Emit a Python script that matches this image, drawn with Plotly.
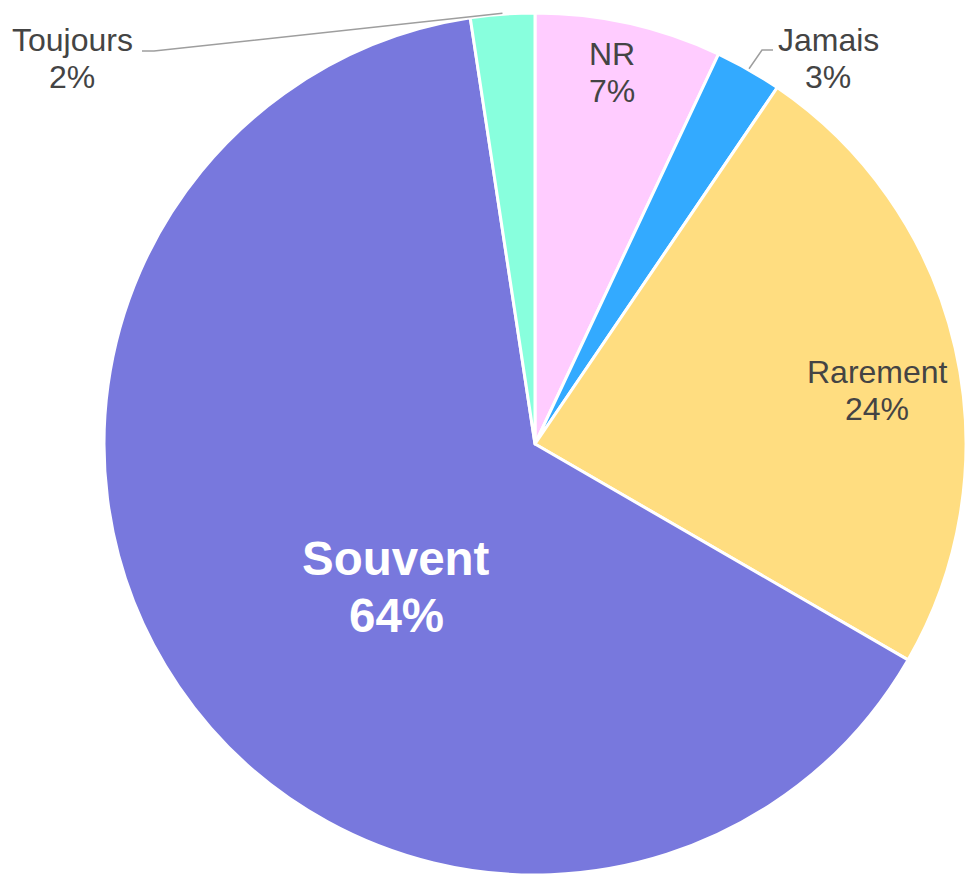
import math
import plotly.graph_objects as go

# ---- data ----
categories = ["NR", "Jamais", "Rarement", "Souvent", "Toujours"]
values = [7.0, 2.5, 23.85, 64.25, 2.4]
colors = ["#FFCCFF", "#33AAFF", "#FFDD80", "#7878DD", "#88FFDD"]

W, H = 967, 876
CX, CY, R = 535, 444, 431  # pie geometry in px (layout)

dom_x = [(CX - R) / W, (CX + R) / W]
dom_y = [1 - (CY + R) / H, 1 - (CY - R) / H]

TXT = "#444444"
FONT = "Liberation Sans, Arial, sans-serif"

fig = go.Figure(go.Pie(
    labels=categories, values=values, sort=False, direction="clockwise",
    rotation=0, marker=dict(colors=colors, line=dict(color="white", width=3)),
    textinfo="none", domain=dict(x=dom_x, y=dom_y), hoverinfo="label+percent",
))

total = sum(values)
cum = 0
mid = {}
pct = {}
for c, v in zip(categories, values):
    mid[c] = (cum + v / 2) / total * 2 * math.pi
    pct[c] = int(math.floor(v / total * 100 + 0.5))
    cum += v

def px2paper(x, y):
    return x / W, 1 - y / H

# label layout: (x center px, y of name line, y of percent line, size, bold, color)
label_layout = {
    "NR": (612, 54, 91, 32, False, TXT),
    "Jamais": (828, 40, 77, 32, False, TXT),
    "Rarement": (877, 372, 409, 32, False, TXT),
    "Souvent": (396, 558, 615, 47.5, True, "white"),
    "Toujours": (72, 40, 77, 32, False, TXT),
}
# leader lines for outside labels: elbow and end points (px)
leaders = {
    "Toujours": [(154, 51), (142, 51)],
    "Jamais": [(762, 50), (773, 50)],
}

shapes, annots = [], []
for c, pts_rest in leaders.items():
    a = mid[c]
    sx = CX + (R + 1) * math.sin(a)
    sy = CY - (R + 1) * math.cos(a)
    pts = [(sx, sy)] + pts_rest
    path = "M " + " L ".join("{},{}".format(*px2paper(*p)) for p in pts)
    shapes.append(dict(type="path", xref="paper", yref="paper", path=path,
                       line=dict(color="#9E9E9E", width=1.5)))

for c in categories:
    x, y1, y2, size, bold, col = label_layout[c]
    for txt, yy in ((c, y1), (f"{pct[c]}%", y2)):
        if bold:
            txt = f"<b>{txt}</b>"
        px_, py_ = px2paper(x, yy)
        annots.append(dict(xref="paper", yref="paper", x=px_, y=py_, showarrow=False,
                           text=txt, font=dict(family=FONT, size=size, color=col),
                           xanchor="center", yanchor="middle"))

fig.update_layout(
    width=W, height=H, margin=dict(l=0, r=0, t=0, b=0),
    paper_bgcolor="white", showlegend=False,
    shapes=shapes, annotations=annots,
)
fig.write_html("out.html", config={"displayModeBar": False},
               post_script="document.body.style.margin='0';")
